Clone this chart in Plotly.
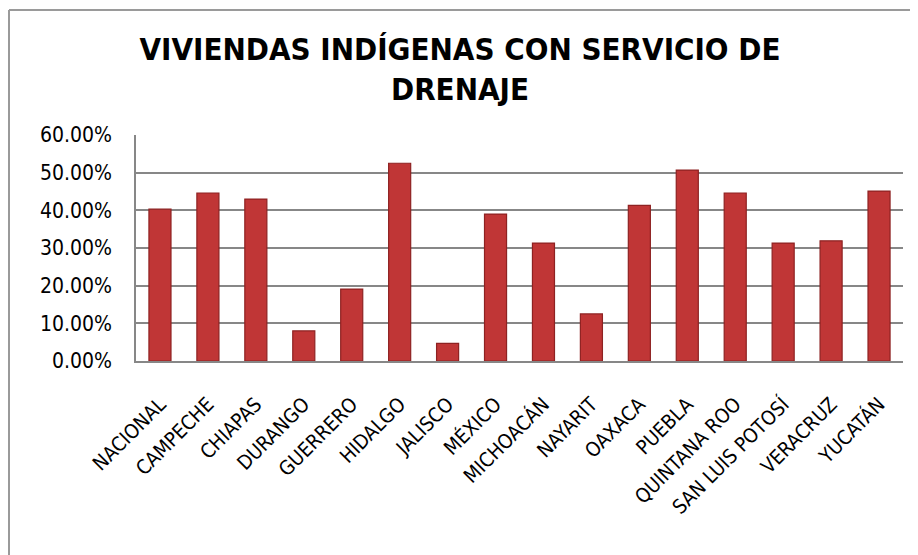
import plotly.graph_objects as go

categories = ["NACIONAL", "CAMPECHE", "CHIAPAS", "DURANGO", "GUERRERO", "HIDALGO",
              "JALISCO", "MÉXICO", "MICHOACÁN", "NAYARIT", "OAXACA", "PUEBLA",
              "QUINTANA ROO", "SAN LUIS POTOSÍ", "VERACRUZ", "YUCATÁN"]
values = [0.403, 0.446, 0.430, 0.080, 0.191, 0.525,
          0.047, 0.390, 0.313, 0.125, 0.413, 0.507,
          0.446, 0.313, 0.319, 0.451]
y_ticks = [0, 0.1, 0.2, 0.3, 0.4, 0.5, 0.6]
title_text = "VIVIENDAS INDÍGENAS CON SERVICIO DE<br>DRENAJE"

# page body has an 8px margin, so the figure is sized to fit the window
W, H = 910, 547
L, R, T, B = 128, 15, 127, 194
pw, ph = W - L - R, H - T - B

def px_x(p):
    return (p - L) / pw

def px_y(p):
    return (H - B - p) / ph

fig = go.Figure()
fig.add_trace(go.Bar(
    x=categories, y=values,
    marker=dict(color="#C03636", line=dict(color="#8E2222", width=1.2)),
    hoverinfo="x+y",
))

fig.update_layout(
    width=W, height=H,
    margin=dict(l=L, r=R, t=T, b=B, autoexpand=False),
    paper_bgcolor="white", plot_bgcolor="white",
    bargap=0.54,
    showlegend=False,
    title=dict(text=title_text, x=452 / W, xref="container", xanchor="center",
               y=1 - 52 / H, yref="container", yanchor="middle",
               font=dict(family="DejaVu Sans Condensed, DejaVu Sans", size=31, color="black",
                         weight="bold")),
    font=dict(family="DejaVu Sans", color="black"),
    shapes=[dict(type="line", xref="paper", yref="paper",
                 x0=px_x(1), x1=px_x(1), y0=px_y(2), y1=px_y(600),
                 line=dict(color="#9A9A9A", width=2)),
            dict(type="line", xref="paper", yref="paper",
                 x0=px_x(1), x1=px_x(960), y0=px_y(2), y1=px_y(2),
                 line=dict(color="#9A9A9A", width=2))],
)
fig.update_yaxes(range=[0, 0.6], tickvals=y_ticks, tickformat=".2%",
                 showgrid=True, gridcolor="#878787", gridwidth=1.5,
                 showline=True, linecolor="#878787", linewidth=1.5,
                 ticks="", ticklabelstandoff=18,
                 tickfont=dict(family="DejaVu Sans Condensed, DejaVu Sans", size=21, color="black"),
                 zeroline=False)
fig.update_xaxes(tickangle=-45, showline=True, linecolor="#878787", linewidth=1.5,
                 ticks="", ticklabelstandoff=22,
                 tickfont=dict(family="DejaVu Sans Condensed, DejaVu Sans", size=20, color="black"))

fig.write_html("out.html")
